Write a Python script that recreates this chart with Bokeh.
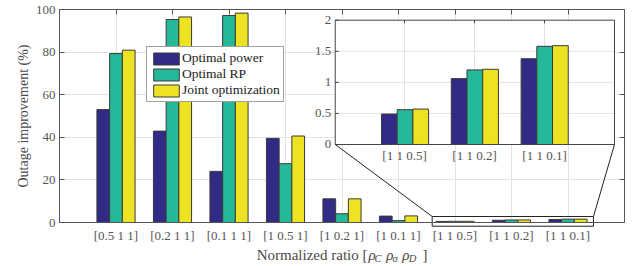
import numpy as np
from bokeh.plotting import figure
from bokeh.models import Range1d, FixedTicker, LinearAxis, Grid
from bokeh.core.properties import value
from bokeh.embed import file_html
from bokeh.resources import INLINE

# ---------------- data ----------------
categories = ["[0.5 1 1]", "[0.2 1 1]", "[0.1 1 1]", "[1 0.5 1]", "[1 0.2 1]",
              "[1 0.1 1]", "[1 1 0.5]", "[1 1 0.2]", "[1 1 0.1]"]
optimal_power = [53.0, 42.9, 24.0, 39.5, 11.1, 3.0, 0.49, 1.06, 1.38]
optimal_rp = [79.3, 95.3, 97.2, 27.6, 4.1, 0.9, 0.56, 1.20, 1.58]
joint_opt = [80.9, 96.5, 98.3, 40.6, 11.1, 3.1, 0.57, 1.21, 1.59]
series_names = ["Optimal power", "Optimal RP", "Joint optimization"]
y_ticks = [0, 20, 40, 60, 80, 100]
inset_first = 6                       # inset shows the last three groups
inset_y_ticks = [0, 0.5, 1, 1.5, 2]
inset_y_labels = ["0", "0.5", "1", "1.5", "2"]

# ---------------- style / layout ----------------
FONT = "Liberation Serif"
colors = ["#312B86", "#25B99A", "#EDE323"]
edge = "#3a3a3a"
axis_col = "#555555"
tick_col = "#555555"
label_col = "#4a4a4a"
grid_col = "#E3E3E3"
bar_w = 0.225
offsets = [-0.225, 0.0, 0.225]

W, H = 638, 266
X0, X1 = 0, 10          # main axes limits
Y0, Y1 = 0, 100
ax_left, ax_right, ax_top, ax_bottom = 59, 624, 9, 222   # axes box in pixels
xpp = (ax_right - ax_left) / (X1 - X0)
ypp = (ax_bottom - ax_top) / (Y1 - Y0)
x_range = Range1d(X0 - ax_left / xpp, X1 + (W - ax_right) / xpp)
y_range = Range1d(Y0 - (H - ax_bottom) / ypp, Y1 + ax_top / ypp)

positions = np.arange(1, len(categories) + 1)
series = [optimal_power, optimal_rp, joint_opt]

p = figure(width=W, height=H, x_range=x_range, y_range=y_range,
           output_backend="svg", toolbar_location=None,
           x_axis_location=None, y_axis_location=None, min_border=0)
p.background_fill_color = "white"
p.border_fill_color = "white"
p.outline_line_color = None
p.center = [r for r in p.center if not isinstance(r, Grid)]

# ---------------- axes (box with MATLAB-like inward ticks) ----------------
def make_axis(ticks, loc, bounds, tick_in, labels=True):
    ax = LinearAxis(ticker=FixedTicker(ticks=ticks), fixed_location=loc, bounds=bounds,
                    major_tick_in=tick_in, major_tick_out=0, minor_tick_line_color=None,
                    axis_line_color=axis_col, major_tick_line_color=axis_col,
                    major_label_text_font=FONT, major_label_text_font_size="13px",
                    major_label_text_color=tick_col if labels else None)
    return ax

xticks = [int(v) for v in positions]
bottom_ax = make_axis(xticks, Y0, (X0, X1), 0)
bottom_ax.major_label_overrides = {int(v): c for v, c in zip(positions, categories)}
bottom_ax.major_label_standoff = 5
left_ax = make_axis(y_ticks, X0, (Y0, Y1), 5)
left_ax.major_label_standoff = 4
left_ax.axis_label = "Outage improvement (%)"
left_ax.axis_label_text_font = FONT
left_ax.axis_label_text_font_size = "14px"
left_ax.axis_label_text_font_style = "normal"
left_ax.axis_label_text_color = label_col
left_ax.axis_label_standoff = 2
top_ax = make_axis(xticks, Y1, (X0, X1), 5, labels=False)
right_ax = make_axis(y_ticks, X1, (Y0, Y1), 5, labels=False)
p.add_layout(bottom_ax, "below")
p.add_layout(left_ax, "left")
p.add_layout(top_ax, "above")
p.add_layout(right_ax, "right")

p.add_layout(Grid(dimension=0, axis=bottom_ax, ticker=bottom_ax.ticker,
                  cross_bounds=(Y0, Y1), grid_line_color=grid_col))
p.add_layout(Grid(dimension=1, axis=left_ax, ticker=left_ax.ticker,
                  cross_bounds=(X0, X1), grid_line_color=grid_col))

# ---------------- main bars ----------------
for vals, off, c, name in zip(series, offsets, colors, series_names):
    p.vbar(x=positions + off, top=vals, bottom=0, width=bar_w, fill_color=c,
           line_color=edge, line_width=1, legend_label=name)

# ---------------- inset ----------------
inset_x = Range1d(inset_first, 10)
inset_y = Range1d(inset_y_ticks[0], inset_y_ticks[-1])
target_x = Range1d(4.88, 9.823)
target_y = Range1d(36.62, 94.98)
sub = p.subplot(x_source=inset_x, y_source=inset_y, x_target=target_x, y_target=target_y)

ipos = positions[inset_first:]
sub.quad(left=inset_x.start, right=inset_x.end, bottom=inset_y.start, top=inset_y.end,
         fill_color="white", line_color=None)
sub.segment(x0=ipos, y0=inset_y.start, x1=ipos, y1=inset_y.end, line_color=grid_col)
sub.segment(x0=inset_x.start, y0=inset_y_ticks[1:-1], x1=inset_x.end, y1=inset_y_ticks[1:-1],
            line_color=grid_col)
for vals, off, c in zip(series, offsets, colors):
    sub.vbar(x=ipos + off, top=vals[inset_first:], bottom=0, width=bar_w, fill_color=c,
             line_color=edge, line_width=1)
sub.quad(left=inset_x.start, right=inset_x.end, bottom=inset_y.start, top=inset_y.end,
         fill_color=None, line_color="#444444", line_width=1)
sub.segment(x0=inset_x.start, y0=inset_y_ticks, x1=inset_x.start + 0.05, y1=inset_y_ticks,
            line_color="#444444")
sub.segment(x0=ipos, y0=inset_y.end, x1=ipos, y1=inset_y.end - 0.05, line_color="#444444")
sub.text(x=inset_x.start, y=inset_y_ticks, text=inset_y_labels, x_offset=-4,
         text_align="right", text_baseline="middle", text_font=value(FONT),
         text_font_size="13px", text_color=tick_col)
sub.text(x=ipos, y=inset_y.start, text=categories[inset_first:], y_offset=4,
         text_align="center", text_baseline="top", text_font=value(FONT),
         text_font_size="13px", text_color=tick_col)

# zoom box and connectors in the main axes
zoom_l, zoom_r, zoom_b, zoom_t = 6.596, 9.451, -1.74, 2.82
p.quad(left=zoom_l, right=zoom_r, bottom=zoom_b, top=zoom_t, fill_color=None,
       line_color="#222222", line_width=1)
p.segment(x0=[zoom_l, zoom_r], y0=[zoom_t, zoom_t], x1=[target_x.start, target_x.end],
          y1=[target_y.start, target_y.start], line_color="#222222", line_width=1)

# ---------------- x axis label (with subscripts) ----------------
cx = (X0 + X1) / 2
pieces = [
    ("Normalized ratio [", 25.5, 32.5, "15px", "normal", "right"),
    ("ρ", 26.5, 32.5, "15px", "italic", "left"),
    ("C", 32.5, 35.5, "10.5px", "italic", "left"),
    ("ρ", 44.2, 32.5, "15px", "italic", "left"),
    ("σ", 50.5, 35.5, "10.5px", "italic", "left"),
    ("ρ", 60.2, 32.5, "15px", "italic", "left"),
    ("D", 66.8, 35.5, "10.5px", "italic", "left"),
    ("]", 80.5, 32.5, "15px", "normal", "left"),
]
for txt, dx, dy, fs, st, al in pieces:
    p.text(x=[cx], y=[Y0], text=[txt], x_offset=dx, y_offset=dy,
           text_font=value(FONT), text_font_size=value(fs), text_font_style=st,
           text_align=al, text_baseline="alphabetic", text_color=label_col)

# ---------------- legend ----------------
lg = p.legend[0]
lg.location = (146, 164)
lg.label_text_font = FONT
lg.label_text_font_size = "13.5px"
lg.label_text_color = "#222222"
lg.glyph_width = 32
lg.glyph_height = 15
lg.label_height = 15
lg.spacing = 0
lg.padding = 3
lg.margin = 0
lg.label_standoff = 0
lg.border_line_color = "#444444"
lg.border_line_width = 1
lg.background_fill_alpha = 1.0

open("out.html", "w").write(file_html(p, INLINE))
